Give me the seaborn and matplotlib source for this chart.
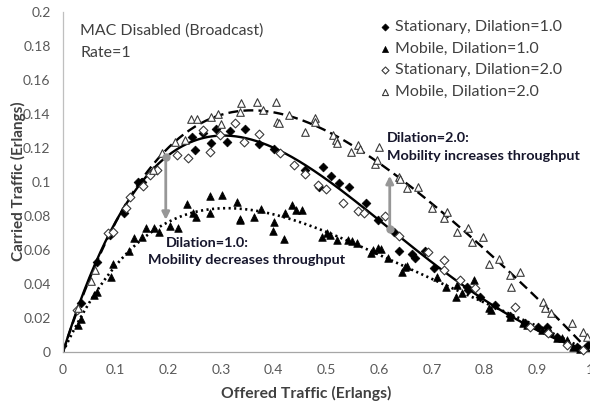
import numpy as np
import matplotlib
matplotlib.use("Agg")
import matplotlib.pyplot as plt
import seaborn as sns

# Carried traffic vs offered traffic (Erlangs), MAC disabled, broadcast, rate = 1
stat1_x = [0.035, 0.064, 0.090, 0.115, 0.142, 0.150, 0.244, 0.250, 0.265, 0.280,
           0.290, 0.312, 0.316, 0.345, 0.372, 0.400, 0.459, 0.486, 0.494, 0.508,
           0.524, 0.543, 0.575, 0.597, 0.628, 0.638, 0.662, 0.668, 0.686, 0.704,
           0.766, 0.769, 0.791, 0.820, 0.848, 0.877, 0.902, 0.918, 0.937, 0.975,
           0.997]
stat1_y = [0.029, 0.053, 0.069, 0.0816, 0.100, 0.100, 0.1267, 0.1188, 0.1286, 0.1227,
           0.1310, 0.1233, 0.1302, 0.1310, 0.1224, 0.1192, 0.1071, 0.0973, 0.1086, 0.1035,
           0.0992, 0.0969, 0.0878, 0.0776, 0.0708, 0.0596, 0.0576, 0.0555, 0.0594, 0.0492,
           0.038, 0.0365, 0.0326, 0.0276, 0.0212, 0.0173, 0.0149, 0.0145, 0.009, 0.003,
           0.004]

mob1_x = [0.029, 0.035, 0.059, 0.065, 0.092, 0.095, 0.126, 0.134, 0.149, 0.157,
          0.173, 0.183, 0.203, 0.219, 0.235, 0.246, 0.252, 0.278, 0.278, 0.302,
          0.331, 0.335, 0.335, 0.363, 0.376, 0.399, 0.400, 0.420, 0.421, 0.434,
          0.443, 0.453, 0.491, 0.500, 0.507, 0.519, 0.540, 0.548, 0.557, 0.584,
          0.588, 0.597, 0.603, 0.616, 0.644, 0.649, 0.652, 0.709, 0.727, 0.746,
          0.747, 0.757, 0.780, 0.809, 0.813, 0.848, 0.873, 0.881, 0.908, 0.918,
          0.924, 0.937, 0.946, 0.956, 0.968, 0.981]
mob1_y = [0.0159, 0.0192, 0.0335, 0.0355, 0.044, 0.052, 0.0596, 0.0669, 0.0678, 0.0727,
          0.0727, 0.0708, 0.0743, 0.0731, 0.0871, 0.082, 0.0796, 0.092, 0.082, 0.0924,
          0.0884, 0.0785, 0.0775, 0.0796, 0.0839, 0.0714, 0.0767, 0.0663, 0.082, 0.0865,
          0.0835, 0.0835, 0.0678, 0.0698, 0.0688, 0.0659, 0.0659, 0.0653, 0.0639, 0.0584,
          0.060, 0.061, 0.0604, 0.0555, 0.0472, 0.0498, 0.0506, 0.044, 0.038, 0.0322,
          0.0394, 0.0349, 0.0424, 0.0257, 0.0247, 0.0208, 0.0169, 0.0159, 0.0129, 0.0139,
          0.012, 0.008, 0.008, 0.007, 0.003, 0.002]

stat2_x = [0.027, 0.086, 0.095, 0.120, 0.128, 0.151, 0.165, 0.178, 0.216, 0.238,
           0.265, 0.278, 0.297, 0.326, 0.343, 0.371, 0.412, 0.438, 0.459, 0.484,
           0.499, 0.531, 0.560, 0.571, 0.611, 0.638, 0.692, 0.723, 0.723, 0.753,
           0.782, 0.858, 0.886, 0.921, 0.956, 0.986]
stat2_y = [0.025, 0.070, 0.0708, 0.0845, 0.0914, 0.0976, 0.104, 0.107, 0.1159, 0.1139,
           0.1306, 0.1178, 0.1276, 0.1345, 0.1237, 0.1282, 0.1173, 0.110, 0.105, 0.0982,
           0.0957, 0.0878, 0.0831, 0.082, 0.080, 0.0682, 0.059, 0.0541, 0.0482, 0.0424,
           0.0375, 0.0267, 0.0149, 0.011, 0.004, 0.001]

mob2_x = [0.029, 0.054, 0.060, 0.170, 0.187, 0.213, 0.232, 0.243, 0.255, 0.281,
          0.295, 0.299, 0.336, 0.337, 0.369, 0.379, 0.404, 0.407, 0.409, 0.429,
          0.459, 0.478, 0.478, 0.513, 0.518, 0.519, 0.547, 0.560, 0.564, 0.592,
          0.596, 0.600, 0.638, 0.639, 0.652, 0.673, 0.700, 0.723, 0.728, 0.747,
          0.769, 0.777, 0.797, 0.809, 0.828, 0.849, 0.851, 0.867, 0.911, 0.915,
          0.926, 0.965, 0.987, 0.994]
mob2_y = [0.0257, 0.042, 0.048, 0.107, 0.1168, 0.1237, 0.125, 0.1369, 0.1369, 0.1384,
          0.140, 0.1339, 0.141, 0.1463, 0.1473, 0.1424, 0.1473, 0.1355, 0.1345, 0.1394,
          0.1296, 0.1375, 0.1355, 0.1276, 0.1247, 0.1227, 0.1178, 0.1218, 0.1192, 0.1106,
          0.1129, 0.1204, 0.1031, 0.1016, 0.0963, 0.0969, 0.0845, 0.0786, 0.0825, 0.0708,
          0.0727, 0.0649, 0.0678, 0.052, 0.055, 0.0453, 0.038, 0.0472, 0.0296, 0.0261,
          0.0231, 0.0169, 0.012, 0.0086]

series_labels = ["Stationary, Dilation=1.0", "Mobile, Dilation=1.0",
                 "Stationary, Dilation=2.0", "Mobile, Dilation=2.0"]
x_ticks = [0, 0.1, 0.2, 0.3, 0.4, 0.5, 0.6, 0.7, 0.8, 0.9, 1]
x_tick_labels = ["0", "0.1", "0.2", "0.3", "0.4", "0.5", "0.6", "0.7", "0.8", "0.9", "1"]
y_ticks = [0, 0.02, 0.04, 0.06, 0.08, 0.1, 0.12, 0.14, 0.16, 0.18, 0.2]
y_tick_labels = ["0", "0.02", "0.04", "0.06", "0.08", "0.1", "0.12", "0.14", "0.16", "0.18", "0.2"]


def trend(x, y, grid):
    """Least-squares polynomial trend that vanishes at 0 and 1 offered load."""
    x = np.asarray(x, float)
    y = np.asarray(y, float)
    basis = lambda t: np.column_stack([t * (1 - t), t**2 * (1 - t), t**3 * (1 - t)])
    coef, *_ = np.linalg.lstsq(basis(x), y, rcond=None)
    return basis(np.asarray(grid, float)) @ coef


sns.set_theme(style="white")
plt.rcParams["font.family"] = ["Lato", "DejaVu Sans"]

W, H = 590, 405
fig = plt.figure(figsize=(W / 100, H / 100), dpi=100)
ax = fig.add_axes([63 / W, 1 - 352 / H, 527 / W, 340 / H])

grid = np.linspace(0, 1, 300)
fit_stat1 = trend(stat1_x, stat1_y, grid)
fit_mob1 = trend(mob1_x, mob1_y, grid)
fit_mob2 = trend(mob2_x, mob2_y, grid)

sns.lineplot(x=grid, y=fit_stat1, ax=ax, color="black", lw=1.7, zorder=2)
sns.lineplot(x=grid, y=fit_mob1, ax=ax, color="black", lw=1.9,
             linestyle=(0, (0.8, 1.3)), zorder=2)
sns.lineplot(x=grid, y=fit_mob2, ax=ax, color="black", lw=1.7,
             linestyle=(0, (4.2, 2.2)), zorder=2)

mk = dict(ax=ax, zorder=3, clip_on=False)
sns.scatterplot(x=stat1_x, y=stat1_y, marker="D", s=20, color="black",
                edgecolor="black", linewidth=0.5, label=series_labels[0], **mk)
sns.scatterplot(x=mob1_x, y=mob1_y, marker="^", s=30, color="black",
                edgecolor="black", linewidth=0.5, label=series_labels[1], **mk)
sns.scatterplot(x=stat2_x, y=stat2_y, marker="D", s=20, color="white",
                edgecolor="#3a3a3a", linewidth=0.8, label=series_labels[2], **mk)
sns.scatterplot(x=mob2_x, y=mob2_y, marker="^", s=30, color="white",
                edgecolor="#3a3a3a", linewidth=0.8, label=series_labels[3], **mk)

# Grey arrows showing the effect of mobility at each dilation
arrow_grey = "#979797"
for xa, y_from, y_to in [(0.195, np.interp(0.195, grid, fit_stat1), np.interp(0.195, grid, fit_mob1) + 0.002),
                         (0.62, np.interp(0.62, grid, fit_stat1), np.interp(0.62, grid, fit_mob2) - 0.003)]:
    ax.annotate("", xy=(xa, y_to), xytext=(xa, y_from),
                arrowprops=dict(arrowstyle="-|>", color=arrow_grey, lw=2.0,
                                mutation_scale=11, shrinkA=0, shrinkB=0), zorder=4)
    ax.plot([xa], [y_from], marker="o", ms=5, color=arrow_grey, zorder=5)

ax.set_xlim(0, 1)
ax.set_ylim(0, 0.2)
ax.set_xticks(x_ticks)
ax.set_xticklabels(x_tick_labels)
ax.set_yticks(y_ticks)
ax.set_yticklabels(y_tick_labels)
ax.tick_params(axis="both", which="major", labelsize=10, colors="#595959",
               length=4, width=0.8, direction="out", pad=5)
ax.tick_params(axis="x", color="#a6a6a6")
ax.tick_params(axis="y", color="#bfbfbf")
for side in ("top", "right"):
    ax.spines[side].set_visible(False)
ax.spines["left"].set_color("#bfbfbf")
ax.spines["bottom"].set_color("#a6a6a6")
ax.spines["left"].set_linewidth(0.9)
ax.spines["bottom"].set_linewidth(0.9)
ax.grid(False)

ax.set_xlabel("")
ax.set_ylabel("")
fig.text(306 / W, 1 - 393 / H, "Offered Traffic (Erlangs)", ha="center", va="center",
         fontsize=11.3, fontweight="bold", color="#404040")
fig.text(18 / W, 1 - 181 / H, "Carried Traffic (Erlangs)", ha="center", va="center",
         rotation=90, fontsize=11.0, fontweight="bold", color="#404040")

fig.text(80 / W, 1 - 31 / H, "MAC Disabled (Broadcast)", ha="left", va="center",
         fontsize=11.4, color="#404040")
fig.text(80 / W, 1 - 53 / H, "Rate=1", ha="left", va="center",
         fontsize=11.4, color="#404040")

note_color = "#16162c"
note_size = 10.4
fig.text(387 / W, 1 - 138 / H, "Dilation=2.0:", ha="left", va="center",
         fontsize=note_size, fontweight="bold", color=note_color)
fig.text(387 / W, 1 - 156 / H, "Mobility increases throughput", ha="left", va="center",
         fontsize=note_size, fontweight="bold", color=note_color)
fig.text(166 / W, 1 - 243 / H, "Dilation=1.0:", ha="left", va="center",
         fontsize=note_size, fontweight="bold", color=note_color)
fig.text(148 / W, 1 - 260 / H, "Mobility decreases throughput", ha="left", va="center",
         fontsize=note_size, fontweight="bold", color=note_color)

leg = ax.legend(loc="upper left", bbox_to_anchor=(379 / W, 1 - 20 / H),
                bbox_transform=fig.transFigure, frameon=False, fontsize=11.5,
                handlelength=0.7, handletextpad=0.3, labelspacing=0.46,
                borderaxespad=0, borderpad=0, markerscale=0.8)
for t in leg.get_texts():
    t.set_color("#404040")

fig.savefig("out.png", dpi=100)
